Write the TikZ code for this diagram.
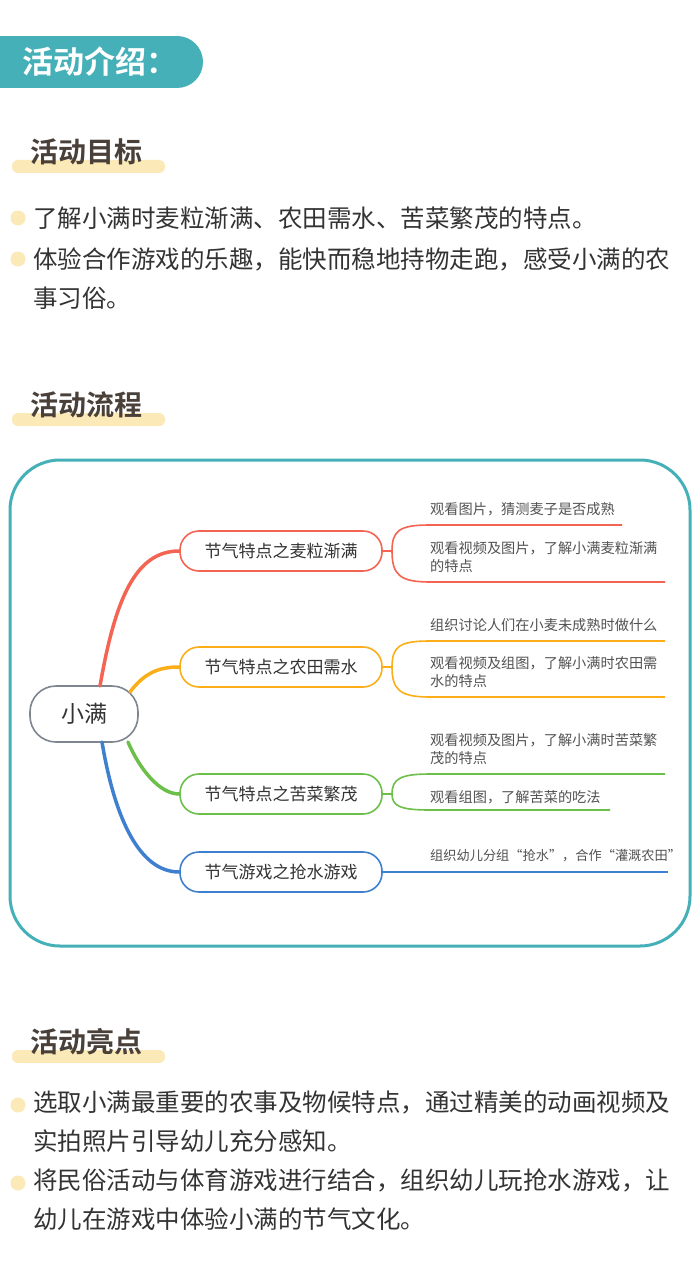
\documentclass[tikz,border=0pt]{standalone}
\usepackage{fontspec}
\setmainfont{Noto Sans CJK SC}
\newfontfamily\cjkb{Noto Sans CJK SC Bold}
\definecolor{teal1}{HTML}{45B0B8}
\definecolor{hl}{HTML}{FCE9B8}
\definecolor{dk}{HTML}{4A403A}
\definecolor{txt}{HTML}{333333}
\definecolor{cr}{HTML}{F46452}
\definecolor{co}{HTML}{FBAE17}
\definecolor{cg}{HTML}{6CC04A}
\definecolor{cb}{HTML}{3F7FD0}
\definecolor{cgray}{HTML}{7D8590}
\begin{document}
\begin{tikzpicture}[x=1pt,y=-1pt,
  sec/.style={anchor=west,font=\cjkb\fontsize{28}{30}\selectfont,text=dk,inner sep=0},
  btxt/.style={anchor=west,font=\fontsize{24.5}{39}\selectfont,text=txt,inner sep=0,align=left},
  dot/.style={fill=hl,draw=none,circle,minimum size=15pt,inner sep=0},
  br/.style={draw=#1,line width=1.6pt,rounded corners=19pt,minimum width=202pt,minimum height=40pt,font=\fontsize{17}{20}\selectfont,text=txt},
  leaf/.style={anchor=west,font=\fontsize{14.2}{18}\selectfont,text=txt!85,inner sep=0,align=left},
  ln/.style={draw=#1,line width=1.6pt},
  trunk/.style={draw=#1,line width=3.5pt,line cap=round}]
\useasboundingbox (0,0) rectangle (700,1276);
\fill[white] (0,0) rectangle (700,1276);
% header
\fill[teal1] (0,36) rectangle (177,88);
\fill[teal1] (177,62) circle[radius=26];
\node[anchor=west,font=\cjkb\fontsize{31}{33}\selectfont,text=white,inner sep=0] (h) at (22,62) {活动介绍：};
% section 1
\fill[hl,rounded corners=6pt] (12,160) rectangle (165,173);
\node[sec] (s1) at (30,152) {活动目标};
\node[dot] (d1) at (18,218) {};
\node[btxt] (b1) at (33,218) {了解小满时麦粒渐满、农田需水、苦菜繁茂的特点。};
\node[dot] (d2) at (18,259) {};
\node[btxt,anchor=north west] (b2) at (33,248) {体验合作游戏的乐趣，能快而稳地持物走跑，感受小满的农\\事习俗。};
% section 2
\fill[hl,rounded corners=6pt] (12,413) rectangle (165,426);
\node[sec] (s2) at (30,405) {活动流程};
\draw[teal1,line width=3pt,rounded corners=50pt] (10,460) rectangle (690,946);
% mind map
\node[draw=cgray,line width=1.6pt,rounded corners=26pt,minimum width=108pt,minimum height=56pt,font=\fontsize{23}{26}\selectfont,text=txt] (root) at (84,714) {小满};
\node[br=cr] (n1) at (281,551) {节气特点之麦粒渐满};
\node[br=co] (n2) at (281,667) {节气特点之农田需水};
\node[br=cg] (n3) at (281,794) {节气特点之苦菜繁茂};
\node[br=cb] (n4) at (281,872) {节气游戏之抢水游戏};
\draw[trunk=cr] (100,686) .. controls (115,600) and (135,551) .. (n1.west);
\draw[trunk=co] (130,692) .. controls (145,672) and (160,667) .. (n2.west);
\draw[trunk=cg] (128,742) .. controls (140,770) and (160,794) .. (n3.west);
\draw[trunk=cb] (102,742) .. controls (115,820) and (140,872) .. (n4.west);
% leaves red
\node[leaf] (l11) at (430,509) {观看图片，猜测麦子是否成熟};
\node[leaf] (l12) at (430,557) {观看视频及图片，了解小满麦粒渐满\\的特点};
\coordinate (e11) at (622,525); \coordinate (e12) at (665,582);
\draw[ln=cr] (n1.east) -- (392,551) .. controls (392,530) and (400,525) .. (430,525) -- (e11);
\draw[ln=cr] (392,551) .. controls (392,575) and (400,582) .. (430,582) -- (e12);
% orange
\node[leaf] (l21) at (430,625) {组织讨论人们在小麦未成熟时做什么};
\node[leaf] (l22) at (430,672) {观看视频及组图，了解小满时农田需\\水的特点};
\coordinate (e21) at (665,641); \coordinate (e22) at (665,697);
\draw[ln=co] (n2.east) -- (392,667) .. controls (392,646) and (400,641) .. (430,641) -- (e21);
\draw[ln=co] (392,667) .. controls (392,690) and (400,697) .. (430,697) -- (e22);
% green
\node[leaf] (l31) at (430,749) {观看视频及图片，了解小满时苦菜繁\\茂的特点};
\node[leaf] (l32) at (430,797) {观看组图，了解苦菜的吃法};
\coordinate (e31) at (665,774); \coordinate (e32) at (610,810);
\draw[ln=cg] (n3.east) -- (392,794) .. controls (392,779) and (400,774) .. (430,774) -- (e31);
\draw[ln=cg] (392,794) .. controls (392,806) and (400,810) .. (430,810) -- (e32);
% blue
\node[leaf,font=\fontsize{13.2}{18}\selectfont] (l41) at (430,856) {组织幼儿分组“抢水”，合作“灌溉农田”};
\coordinate (e41) at (668,872);
\draw[ln=cb] (n4.east) -- (e41);
% section 3
\fill[hl,rounded corners=6pt] (12,1050) rectangle (165,1063);
\node[sec] (s3) at (30,1042) {活动亮点};
\node[dot] (d3) at (18,1105) {};
\node[btxt,anchor=north west] (b3) at (33,1091) {选取小满最重要的农事及物候特点，通过精美的动画视频及\\实拍照片引导幼儿充分感知。};
\node[dot] (d4) at (18,1183) {};
\node[btxt,anchor=north west] (b4) at (33,1169) {将民俗活动与体育游戏进行结合，组织幼儿玩抢水游戏，让\\幼儿在游戏中体验小满的节气文化。};
\end{tikzpicture}
\end{document}
